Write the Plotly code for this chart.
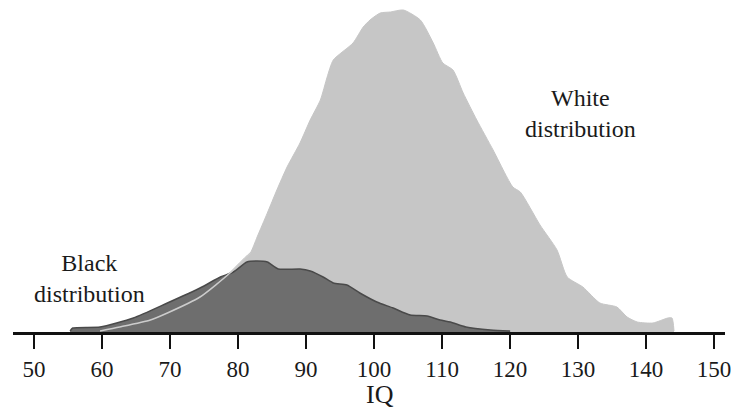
import plotly.graph_objects as go

# White distribution (IQ, relative frequency in arbitrary units)
white_iq = [59.7, 62.6, 67.1, 69.6, 74.4, 78.8, 80.7, 81.8, 82.8, 84.3, 85.7, 87.2, 89.1,
            90.6, 92.1, 93.1, 94.0, 96.9, 98.4, 99.4, 100.9, 102.4, 104.3, 106.8, 108.7,
            110.1, 111.6, 113.1, 115.1, 117.5, 120.4, 121.5, 124.4, 126.9, 128.4, 130.7,
            133.2, 135.7, 137.2, 138.7, 141.0, 143.2, 143.8, 144.1]
white_freq = [1, 5, 12, 19, 35, 59, 72, 79, 95, 119, 142, 165, 189,
              212, 232, 255, 272, 289, 305, 312, 319, 320, 322, 312, 289,
              269, 262, 239, 212, 182, 145, 140, 107, 82, 55, 45,
              29, 25, 15, 10, 9, 14, 14, 1]

# Black distribution
black_iq = [55.3, 55.7, 59.7, 64.6, 69.6, 74.4, 77.4, 79.3, 81.3, 82.8, 84.3, 85.9, 89.1,
            90.6, 92.5, 94.0, 96.0, 97.9, 100.4, 102.8, 105.3, 107.8, 109.7, 111.2,
            113.5, 117.1, 120.0]
black_freq = [1, 4, 5, 14, 29, 44, 55, 60, 70, 71, 70, 63, 63,
              61, 55, 49, 47, 39, 30, 24, 17, 16, 12, 10,
              5, 2, 1]

tick_vals = [50, 60, 70, 80, 90, 100, 110, 120, 130, 140, 150]
tick_text = [str(v) for v in tick_vals]

FONT = "Liberation Serif"

fig = go.Figure()
fig.add_trace(go.Scatter(x=white_iq, y=white_freq, mode="lines", fill="tozeroy",
                         fillcolor="#c6c6c6", line=dict(color="#c6c6c6", width=1,
                                                         shape="spline", smoothing=0.6),
                         hoverinfo="skip", showlegend=False))
fig.add_trace(go.Scatter(x=black_iq, y=black_freq, mode="lines", fill="tozeroy",
                         fillcolor="#6e6e6e", line=dict(color="#4a4a4a", width=1.5,
                                                         shape="spline", smoothing=0.6),
                         hoverinfo="skip", showlegend=False))
fig.add_trace(go.Scatter(x=white_iq[:8], y=white_freq[:8], mode="lines",
                         line=dict(color="#cccccc", width=1.5, shape="spline", smoothing=0.6),
                         hoverinfo="skip", showlegend=False))

fig.update_layout(
    width=732, height=410,
    margin=dict(l=13, r=7, t=8, b=78, autoexpand=False),
    paper_bgcolor="white", plot_bgcolor="white",
    font=dict(family=FONT, color="#1a1a1a", size=23),
    xaxis=dict(range=[46.9, 151.6], tickvals=tick_vals, ticktext=tick_text,
               ticks="outside", ticklen=14, tickwidth=2, tickcolor="#111",
               showline=True, linewidth=3, linecolor="#111", showgrid=False,
               zeroline=False, automargin=False, ticklabeloverflow="allow",
               tickfont=dict(family=FONT, size=23, color="#1a1a1a")),
    yaxis=dict(range=[0, 324], visible=False, showgrid=False, zeroline=False),
    annotations=[
        dict(text="Black<br>distribution", x=58.2, y=54, xref="x", yref="y",
             showarrow=False, font=dict(family=FONT, size=24, color="#1a1a1a"),
             xanchor="center", yanchor="middle"),
        dict(text="White<br>distribution", x=130.3, y=219, xref="x", yref="y",
             showarrow=False, font=dict(family=FONT, size=24, color="#1a1a1a"),
             xanchor="center", yanchor="middle"),
        dict(text="IQ", x=100.9, y=-0.194, xref="x", yref="paper",
             showarrow=False, font=dict(family=FONT, size=26, color="#1a1a1a"),
             xanchor="center", yanchor="middle"),
    ],
)

fig.write_html(
    "out.html",
    config={"displayModeBar": False},
    post_script="document.body.style.margin='0';document.body.style.overflow='hidden';",
)
